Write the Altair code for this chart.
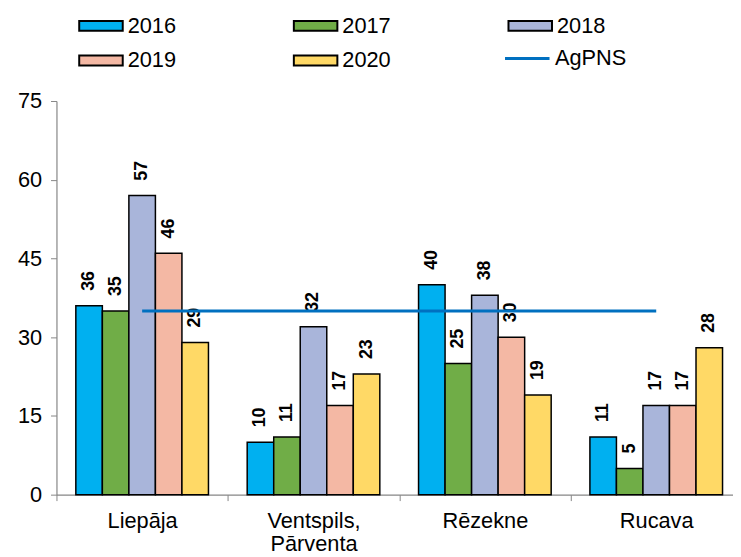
import altair as alt
import pandas as pd

categories = ["Liepāja", "Ventspils, Pārventa", "Rēzekne", "Rucava"]
years = ["2016", "2017", "2018", "2019", "2020"]
values_2016 = [36, 10, 40, 11]
values_2017 = [35, 11, 25, 5]
values_2018 = [57, 32, 38, 17]
values_2019 = [46, 17, 30, 17]
values_2020 = [29, 23, 19, 28]
agpns = [35, 35, 35, 35]
year_colors = ["#00B0F0", "#70AD47", "#A9B5DA", "#F4B8A4", "#FFD966"]
line_color = "#0070C0"
FONT = "Liberation Sans"

series = [values_2016, values_2017, values_2018, values_2019, values_2020]
rows = []
for y, vals in zip(years, series):
    for c, v in zip(categories, vals):
        rows.append({"category": c, "year": y, "value": v})
bars_df = pd.DataFrame(rows)
line_df = pd.DataFrame({"category": categories, "value": agpns, "series": ["AgPNS"] * 4})

x_enc = alt.X(
    "category:N",
    sort=categories,
    scale=alt.Scale(range=[0, 693], paddingInner=0, paddingOuter=0),
    axis=alt.Axis(
        title=None,
        labelAngle=0,
        tickBand="extent",
        tickSize=6,
        labelPadding=10,
        labelFont=FONT,
        labelFontSize=22,
        labelColor="#000000",
        labelLineHeight=23,
        labelExpr="datum.value == 'Ventspils, Pārventa' ? ['Ventspils,', 'Pārventa'] : datum.label",
        domainColor="#868686",
        tickColor="#868686",
        domainWidth=1.2,
    ),
)
y_enc = alt.Y(
    "value:Q",
    scale=alt.Scale(domain=[0, 75], nice=False),
    axis=alt.Axis(
        title=None,
        values=[0, 15, 30, 45, 60, 75],
        grid=False,
        tickSize=6,
        labelPadding=9,
        labelFont=FONT,
        labelFontSize=22,
        labelColor="#000000",
        domainColor="#868686",
        tickColor="#868686",
        domainWidth=1.2,
    ),
)
xoff = alt.XOffset("year:N", sort=years, scale=alt.Scale(paddingInner=0, paddingOuter=0.73))

bars = alt.Chart(bars_df).mark_bar(stroke="#000000", strokeWidth=1.5).encode(
    x=x_enc,
    y=y_enc,
    xOffset=xoff,
    fill=alt.Fill(
        "year:N",
        sort=years,
        scale=alt.Scale(domain=years, range=year_colors),
        legend=alt.Legend(
            title=None,
            orient="none",
            direction="horizontal",
            legendX=22,
            legendY=-99,
            columns=3,
            columnPadding=115,
            rowPadding=1,
            symbolType="M-1,-0.227H1V0.227H-1Z",
            symbolSize=1936,
            symbolStrokeColor="#000000",
            symbolStrokeWidth=2,
            labelFont=FONT,
            labelFontSize=22,
            labelColor="#000000",
            labelOffset=4,
        ),
    ),
)

labels = alt.Chart(bars_df).mark_text(
    angle=270, align="left", baseline="middle", dx=15,
    font=FONT, fontSize=18, fontWeight="bold", color="#000000",
).encode(x=x_enc, y=y_enc, xOffset=xoff, text="value:Q")

line = alt.Chart(line_df).mark_line(strokeWidth=3).encode(
    x=x_enc,
    y=y_enc,
    stroke=alt.Stroke(
        "series:N",
        scale=alt.Scale(domain=["AgPNS"], range=[line_color]),
        legend=alt.Legend(
            title=None,
            orient="none",
            legendX=452,
            legendY=-67,
            symbolType="stroke",
            symbolSize=2025,
            symbolStrokeWidth=3,
            labelFont=FONT,
            labelFontSize=22,
            labelColor="#000000",
            labelOffset=4,
        ),
    ),
)

chart = alt.layer(bars, labels, line).properties(
    width=684,
    height=398,
    autosize=alt.AutoSizeParams(type="none"),
    padding={"left": 49, "top": 91, "right": 0, "bottom": 60},
).configure_view(stroke=None)

chart.save("out.html", embed_options={"renderer": "svg", "actions": False})
